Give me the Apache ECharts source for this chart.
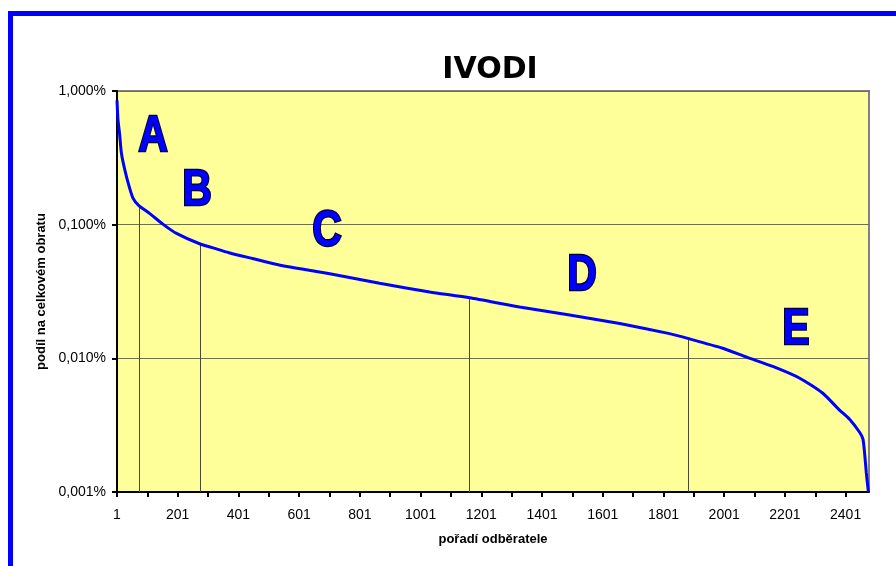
<!DOCTYPE html>
<html>
<head>
<meta charset="utf-8">
<script src="https://cdn.jsdelivr.net/npm/echarts@6/dist/echarts.min.js"></script>
<style>
  body { margin: 0; background: #fff; }
  #chart { width: 896px; height: 566px; }
</style>
</head>
<body>
<div id="chart"></div>
<script>
// rank of customer (pořadí) and share of total turnover in %
var ranks = [1, 4, 10, 15, 21, 37, 54, 73, 109, 152, 197, 273, 339, 373, 447, 538, 702, 866, 1031,
  1163, 1327, 1492, 1657, 1821, 1881, 1996, 2075, 2161, 2250, 2325, 2381, 2414, 2447, 2458, 2464, 2469, 2476];
var shares = [0.85, 0.62, 0.466, 0.35, 0.294, 0.208, 0.157, 0.139, 0.121, 0.101, 0.086, 0.072, 0.0648, 0.0614, 0.0558, 0.0497, 0.043, 0.0364, 0.0314,
  0.0284, 0.0242, 0.0211, 0.0182, 0.0153, 0.0141, 0.0119, 0.0102, 0.0087, 0.0071, 0.0055, 0.0041, 0.0035, 0.0028, 0.0025, 0.0019, 0.0014, 0.001];

// group boundaries (A|B, B|C, C|D, D|E)
var boundaryRanks = [73, 274, 1160, 1881];
var boundaryShares = [0.139, 0.0706, 0.0286, 0.0141];

var groupNames = ['A', 'B', 'C', 'D', 'E'];
var xTickLabels = [1, 201, 401, 601, 801, 1001, 1201, 1401, 1601, 1801, 2001, 2201, 2401];
var xTicks = [1, 101, 201, 301, 401, 501, 601, 701, 801, 901, 1001, 1101, 1201, 1301, 1401, 1501,
  1601, 1701, 1801, 1901, 2001, 2101, 2201, 2301, 2401];

var letterPos = [[153, 137], [197, 191], [327, 232], [582, 276], [796, 330]];

var chart = echarts.init(document.getElementById('chart'));

var lineData = ranks.map(function (r, i) { return [r, shares[i]]; });
var dropLines = boundaryRanks.map(function (r, i) {
  return [{ coord: [r, 0.001] }, { coord: [r, boundaryShares[i]] }];
});

var letters = groupNames.map(function (g, i) {
  return {
    type: 'text',
    x: letterPos[i][0],
    y: letterPos[i][1],
    scaleY: 1.22,
    style: {
      text: g,
      fill: '#0000FF',
      stroke: '#000040',
      lineWidth: 2,
      font: 'bold 41px "Liberation Sans", Arial, sans-serif',
      align: 'center',
      verticalAlign: 'middle'
    },
    z: 100
  };
});

var labelFont = '"Liberation Sans", Arial, sans-serif';

chart.setOption({
  animation: false,
  backgroundColor: '#ffffff',
  title: {
    text: 'IVODI',
    left: 485,
    top: 50,
    textAlign: 'center',
    textStyle: {
      fontFamily: '"DejaVu Sans", sans-serif',
      fontWeight: 'bold',
      fontSize: 30,
      color: '#000'
    }
  },
  grid: {
    left: 117,
    right: 27,
    top: 91,
    bottom: 74,
    show: true,
    backgroundColor: '#FFFF99',
    borderColor: '#808080',
    borderWidth: 2
  },
  xAxis: {
    type: 'value',
    min: 1,
    max: 2478,
    name: 'pořadí odběratele',
    nameLocation: 'middle',
    nameGap: 41,
    nameTextStyle: { fontFamily: labelFont, fontWeight: 'bold', fontSize: 13, color: '#000' },
    axisLine: { lineStyle: { color: '#000', width: 2 } },
    axisTick: { customValues: xTicks, length: 5, lineStyle: { color: '#000', width: 2 } },
    axisLabel: {
      customValues: xTickLabels,
      margin: 16,
      fontFamily: labelFont,
      fontSize: 14,
      color: '#000',
      formatter: function (v) { return String(v); }
    },
    splitLine: { show: false }
  },
  yAxis: {
    type: 'log',
    logBase: 10,
    min: 0.001,
    max: 1,
    name: 'podíl na celkovém obratu',
    nameLocation: 'middle',
    nameGap: 67,
    nameTextStyle: { fontFamily: labelFont, fontWeight: 'bold', fontSize: 13, color: '#000' },
    axisLine: { lineStyle: { color: '#000', width: 2 } },
    axisTick: { length: 5, lineStyle: { color: '#000', width: 2 } },
    axisLabel: {
      margin: 11,
      fontFamily: labelFont,
      fontSize: 14,
      color: '#000',
      formatter: function (v) { return v.toFixed(3).replace('.', ',') + '%'; }
    },
    splitLine: { show: true, lineStyle: { color: '#6f6f4a', width: 1 } }
  },
  series: [{
    type: 'line',
    data: lineData,
    showSymbol: false,
    smooth: 0.2,
    lineStyle: { color: '#0000FF', width: 3 },
    markLine: {
      silent: true,
      symbol: 'none',
      label: { show: false },
      lineStyle: { color: '#4a4a30', width: 1, type: 'solid' },
      data: dropLines
    },
    z: 5
  }],
  graphic: [{
    type: 'rect',
    shape: { x: 10.5, y: 13.5, width: 1200, height: 1200 },
    style: { fill: 'none', stroke: '#0000FF', lineWidth: 5 },
    silent: true
  }].concat(letters)
});
</script>
</body>
</html>
